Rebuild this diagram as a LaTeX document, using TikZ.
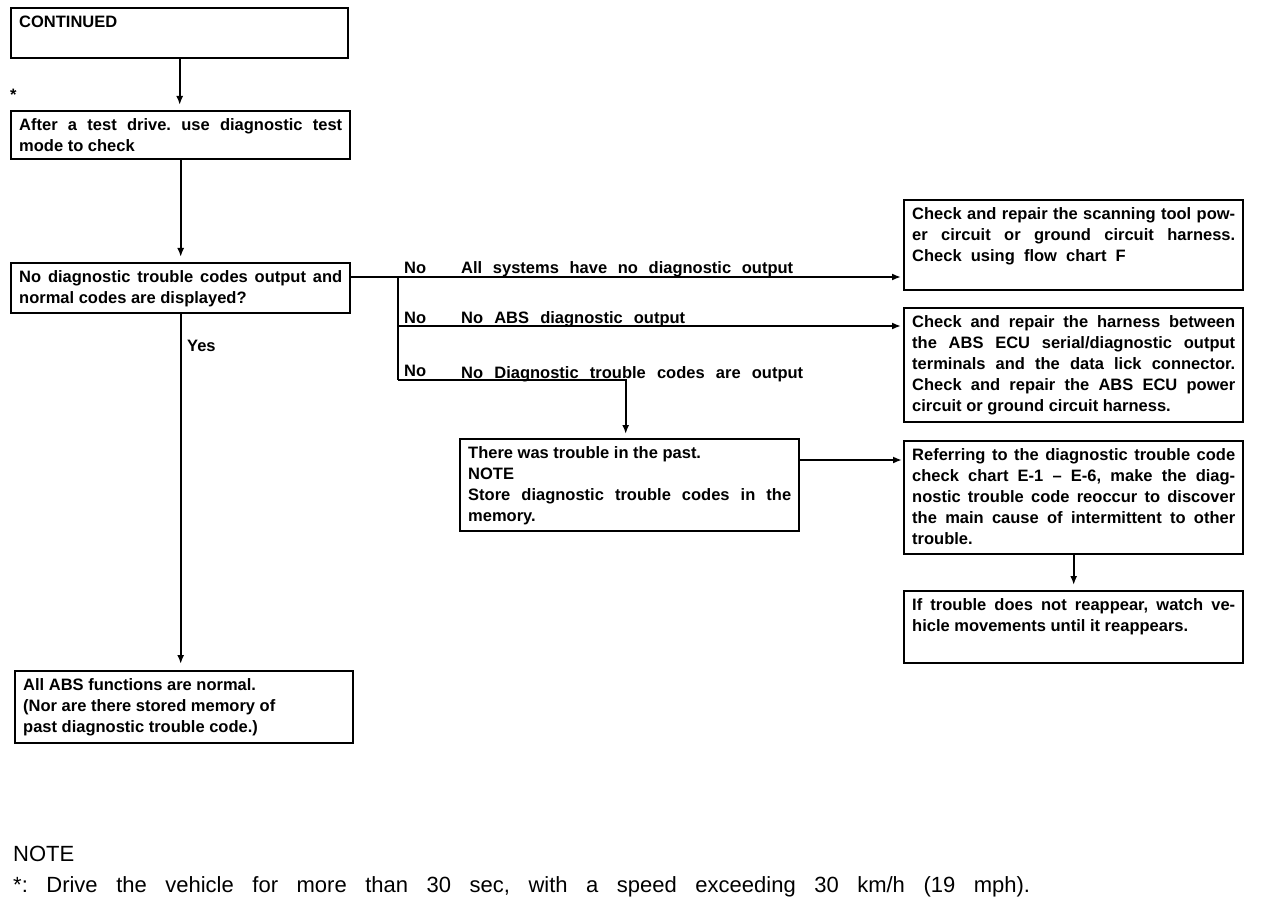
\documentclass[tikz,border=0pt]{standalone}
\usepackage{fontspec}
\setmainfont{Liberation Sans}
\usetikzlibrary{arrows.meta}
\frenchspacing
\newcommand{\J}[1]{\makebox[\linewidth][s]{#1}\par}
\newcommand{\bx}[3]{\parbox[t][#2pt][t]{#1pt}{\strut#3}}
\begin{document}
\begin{tikzpicture}[x=1pt,y=-1pt,
  box/.style={draw, line width=2.4pt, anchor=north west, inner xsep=8pt, inner ysep=5pt, font=\fontsize{16.5}{21}\selectfont\bfseries},
  lbl/.style={anchor=base west, inner sep=0pt, font=\fontsize{16.5}{21}\selectfont\bfseries},
  foot/.style={anchor=base west, inner sep=0pt, font=\fontsize{22}{26}\selectfont},
  conn/.style={line width=2.4pt},
  arr/.style={conn, -{Latex[length=9pt,width=7pt]}},
]
\useasboundingbox[fill=white] (0,0) rectangle (1264,904);

% boxes
\node[box] (b1) at (10,7) {\bx{321}{40}{CONTINUED}};
\node[box] (b2) at (10,110) {\bx{323}{38}{\J{After a test drive. use diagnostic test}mode to check}};
\node[box] (b3) at (10,262) {\bx{323}{40}{\J{No diagnostic trouble codes output and}normal codes are displayed?}};
\node[box] (b4) at (903,199) {\bx{323}{80}{\J{Check and repair the scanning tool pow-}\J{er circuit or ground circuit harness.}Check\ \ using\ \ flow\ \ chart\ \ F}};
\node[box] (b5) at (903,307) {\bx{323}{104}{\J{Check and repair the harness between}\J{the ABS ECU serial/diagnostic output}\J{terminals and the data lick connector.}\J{Check and repair the ABS ECU power}circuit or ground circuit harness.}};
\node[box] (b6) at (459,438) {\bx{323}{82}{There was trouble in the past.\par NOTE\par\J{Store diagnostic trouble codes in the}memory.}};
\node[box] (b7) at (903,440) {\bx{323}{103}{\J{Referring to the diagnostic trouble code}\J{check chart E-1 -- E-6, make the diag-}\J{nostic trouble code reoccur to discover}\J{the main cause of intermittent to other}trouble.}};
\node[box] (b8) at (903,590) {\bx{323}{62}{\J{If trouble does not reappear, watch ve-}hicle movements until it reappears.}};
\node[box] (b9) at (14,670) {\bx{322}{62}{All ABS functions are normal.\par (Nor are there stored memory of\par past diagnostic trouble code.)}};

% star
\node[lbl] (star) at (10,101) {*};

% junction coordinates
\coordinate (j1) at (398,277);
\coordinate (j2) at (398,326);
\coordinate (j3) at (398,380);

% connectors
\draw[arr, shorten >=5pt] (b1.south) -- (b1.south |- b2.north);
\draw[arr, shorten >=5pt] (b2.south) -- (b2.south |- b3.north);
\draw[arr, shorten >=6pt] (b3.south) -- (b3.south |- b9.north);
\draw[arr, shorten >=2pt] ([yshift=-15pt]b3.north east) -- ([yshift=-15pt]b3.north east -| b4.west);
\draw[conn] (j1) -- (j3);
\draw[arr, shorten >=2pt] (j2) -- (j2 -| b5.west);
\draw[arr, shorten >=4pt] (j3) -| ([xshift=-4pt]b6.north);
\draw[arr, line width=1.8pt, shorten >=1pt] ([yshift=-22pt]b6.north east) -- ([yshift=-22pt]b6.north east -| b7.west);
\draw[arr, shorten >=5pt] (b7.south) -- (b7.south |- b8.north);

% branch labels
\node[lbl] (n1) at (404,273) {No};
\node[lbl] (t1) at (461,273) {\makebox[332pt][s]{All systems have no diagnostic output}};
\node[lbl] (n2) at (404,323) {No};
\node[lbl] (t2) at (461,323) {\makebox[224pt][s]{No ABS diagnostic output}};
\node[lbl] (n3) at (404,376) {No};
\node[lbl] (t3) at (461,378) {\makebox[342pt][s]{No Diagnostic trouble codes are output}};
\node[lbl] (yes) at (187,351) {Yes};

% footnote
\node[foot] (note) at (13,861) {NOTE};
\node[foot] (fn) at (13,892) {\makebox[1017pt][s]{*: Drive the vehicle for more than 30 sec, with a speed exceeding 30 km/h (19 mph).}};
\end{tikzpicture}
\end{document}
